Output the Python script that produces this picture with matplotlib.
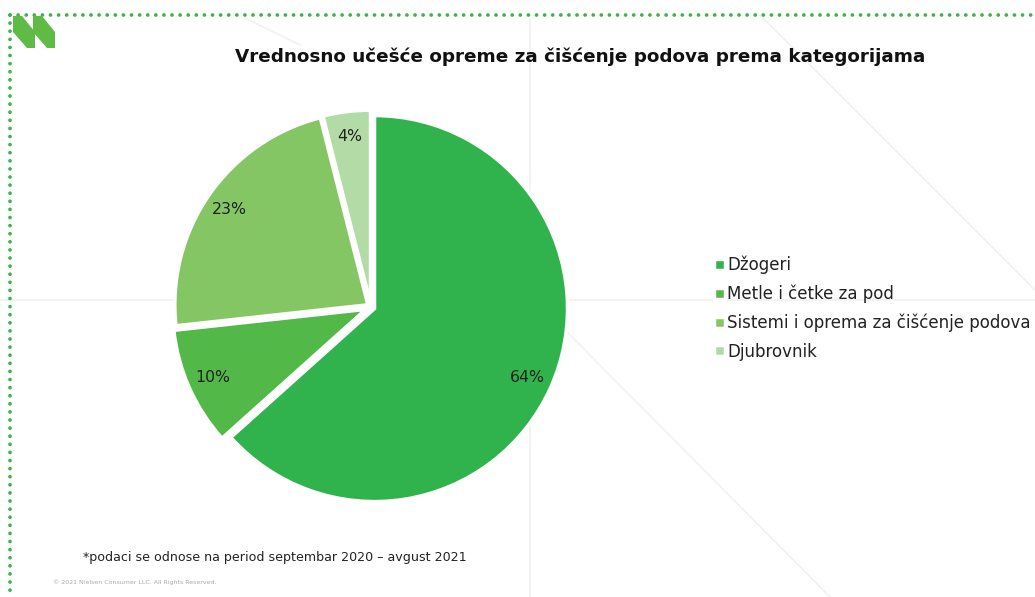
import matplotlib
matplotlib.use("Agg")
import matplotlib.pyplot as plt
from matplotlib.patches import Polygon
from matplotlib.lines import Line2D

W, H = 1035, 597

categories = ["Džogeri", "Metle i četke za pod",
              "Sistemi i oprema za čišćenje podova", "Djubrovnik"]
shares = [64, 10, 23, 4]
colors = ["#30b34c", "#52b848", "#84c663", "#b2dba5"]

title = "Vrednosno učešće opreme za čišćenje podova prema kategorijama"
footnote = "*podaci se odnose na period septembar 2020 – avgust 2021"
copyright_note = "© 2021 Nielsen Consumer LLC. All Rights Reserved."

plt.rcParams["font.family"] = ["DejaVu Sans"]


def fx(px):
    return px / W


def fy(py):
    return 1 - py / H


fig = plt.figure(figsize=(W / 100, H / 100), dpi=100)
fig.patch.set_facecolor("white")

# faint slide background lines
bg = "#f1f1f1"
for (x0, y0), (x1, y1) in [((530, 20), (530, 597)), ((0, 300), (1035, 300)),
                           ((760, 15), (1035, 290)), ((565, 330), (830, 597)),
                           ((245, 18), (300, 45))]:
    fig.add_artist(Line2D([fx(x0), fx(x1)], [fy(y0), fy(y1)],
                          color=bg, lw=1.2, zorder=0))

# dotted frame on top and left
dot = dict(color="#3cb44b", lw=2.7, linestyle=(0, (0.01, 2.15)),
           dash_capstyle="round", zorder=1)
fig.add_artist(Line2D([fx(10), fx(1040)], [fy(15), fy(15)], **dot))
fig.add_artist(Line2D([fx(10), fx(10)], [fy(15), fy(600)], **dot))

# logo marks
for dx in (0, 20):
    pts = [(13 + dx, 16), (22 + dx, 16), (35 + dx, 32), (35 + dx, 48),
           (27 + dx, 48), (13 + dx, 32)]
    fig.add_artist(Polygon([(fx(x), fy(y)) for x, y in pts], closed=True,
                           transform=fig.transFigure, color="#5dbb46",
                           lw=0, zorder=2))

fig.text(fx(580), fy(57), title, ha="center", va="center",
         fontsize=13.25, fontweight="bold", color="#111111")

# pie
R = 193
cx, cy = 371, 307
lim = 1.15
half = lim * R
ax = fig.add_axes([fx(cx - half), fy(cy + half), 2 * half / W, 2 * half / H])

pct_iter = iter(shares)
wedges, _, autotexts = ax.pie(
    shares, colors=colors, startangle=90, counterclock=False,
    explode=[0.02, 0.03, 0.02, 0.02], radius=1,
    wedgeprops=dict(edgecolor="white", linewidth=2.5),
    autopct=lambda p: f"{next(pct_iter)}%", pctdistance=0.87,
    textprops=dict(fontsize=11.3, color="#222222"))
ax.set_xlim(-lim, lim)
ax.set_ylim(-lim, lim)
ax.axis("off")

fig.legend(wedges, categories, loc="upper left",
           bbox_to_anchor=(fx(707), fy(249)), frameon=False,
           fontsize=12, handlelength=0.65, handleheight=0.65,
           handletextpad=0.15, labelspacing=0.63, borderaxespad=0,
           labelcolor="#222222")

fig.text(fx(83), fy(558), footnote, ha="left", va="center",
         fontsize=9.1, color="#222222")
fig.text(fx(53), fy(582), copyright_note, ha="left", va="center",
         fontsize=4.5, color="#aaaaaa")

fig.savefig("out.png", dpi=100, facecolor="white")
